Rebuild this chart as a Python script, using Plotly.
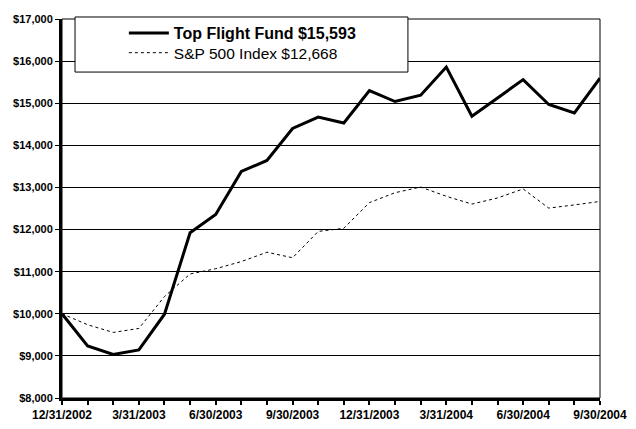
import plotly.graph_objects as go

# month-end dates, 12/31/2002 .. 9/30/2004
dates = ["12/31/2002", "1/31/2003", "2/28/2003", "3/31/2003", "4/30/2003", "5/31/2003",
         "6/30/2003", "7/31/2003", "8/31/2003", "9/30/2003", "10/31/2003", "11/30/2003",
         "12/31/2003", "1/31/2004", "2/29/2004", "3/31/2004", "4/30/2004", "5/31/2004",
         "6/30/2004", "7/31/2004", "8/31/2004", "9/30/2004"]

# growth of $10,000
fund = [10000, 9235, 9035, 9140, 9990, 11925, 12360, 13380, 13640, 14400, 14670, 14530,
        15300, 15040, 15190, 15860, 14690, 15120, 15560, 14970, 14770, 15593]
sp500 = [10000, 9740, 9557, 9652, 10410, 10945, 11070, 11240, 11462, 11330, 11955, 12030,
         12640, 12875, 13010, 12790, 12605, 12750, 12965, 12510, 12585, 12668]

tick_labels = ["12/31/2002", "3/31/2003", "6/30/2003", "9/30/2003",
               "12/31/2003", "3/31/2004", "6/30/2004", "9/30/2004"]

y_ticks = list(range(8000, 17001, 1000))

ticktext = ["<b>%s</b>" % d if d in tick_labels else "" for d in dates]

fig = go.Figure()
fig.add_trace(go.Scatter(x=dates, y=fund, mode="lines",
                         name="<b>Top Flight Fund $15,593</b>", legend="legend",
                         line=dict(color="black", width=3)))
fig.add_trace(go.Scatter(x=dates, y=sp500, mode="lines",
                         name="S&P 500 Index $12,668", legend="legend2",
                         line=dict(color="black", width=1, dash="3px,3px")))

# thin frame on top/right
fig.add_shape(type="rect", xref="paper", yref="paper", x0=0, x1=1, y0=0, y1=1,
              line=dict(color="black", width=1), layer="below")
# legend box (drawn as a shape so it can be wider than the entries)
fig.add_shape(type="rect", xref="paper", yref="paper", x0=0.0242, x1=0.643,
              y0=0.860, y1=1.0053, fillcolor="white",
              line=dict(color="black", width=1), layer="above")

leg = dict(x=0.115, xanchor="left", yanchor="middle",
           bgcolor="rgba(0,0,0,0)", borderwidth=0, itemwidth=40)

# page body has an 8px margin, so the figure is 8px smaller than the window
fig.update_layout(
    width=628, height=421,
    margin=dict(l=54, r=36, t=11, b=31, autoexpand=False),
    paper_bgcolor="white", plot_bgcolor="white",
    font=dict(family="Liberation Sans, Arial", color="black"),
    showlegend=True,
    legend=dict(leg, y=0.963, font=dict(size=16)),
    legend2=dict(leg, y=0.910, font=dict(size=15.5)),
)
fig.update_xaxes(type="category", range=[0, len(dates) - 1], automargin=False,
                 tickmode="array", tickvals=dates, ticktext=ticktext,
                 tickangle=0,
                 ticks="outside", ticklen=4, tickwidth=2, tickcolor="black",
                 showline=True, linewidth=3, linecolor="black",
                 showgrid=False, zeroline=False,
                 tickfont=dict(size=12))
fig.update_yaxes(range=[8000, 17000], tickvals=y_ticks, automargin=False,
                 ticktext=["<b>$%s</b>" % format(v, ",") for v in y_ticks],
                 ticks="outside", ticklen=4, tickwidth=1, tickcolor="black",
                 showline=True, linewidth=3, linecolor="black",
                 showgrid=True, gridcolor="black", gridwidth=1, zeroline=False,
                 tickfont=dict(size=11))

fig.write_html("out.html")
